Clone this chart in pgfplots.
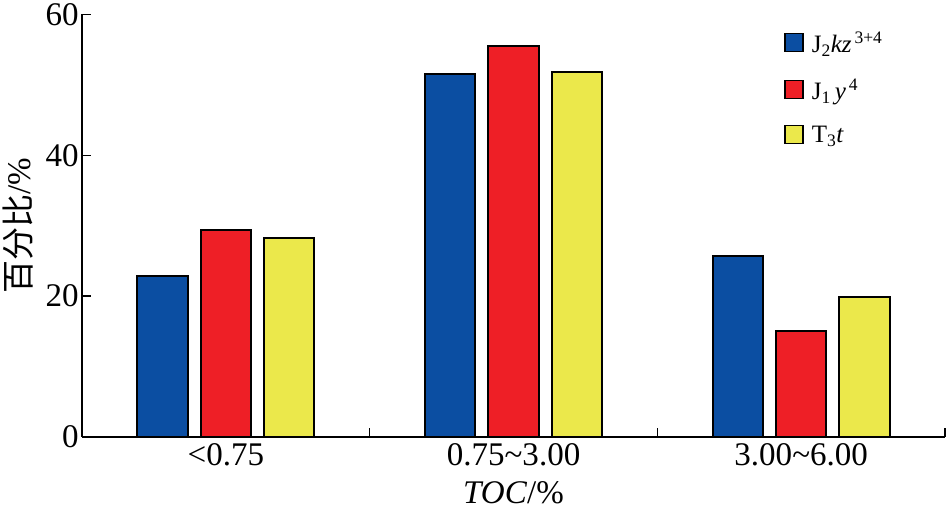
\documentclass[border=0pt]{standalone}
\usepackage{pgfplots}
\pgfplotsset{compat=1.18}
\usepackage{fontspec}
\setmainfont{Liberation Serif}
\newfontfamily\cjk{Noto Sans CJK SC}
\definecolor{cblue}{RGB}{11,78,162}
\definecolor{cred}{RGB}{238,31,38}
\definecolor{cyel}{RGB}{235,232,75}
\begin{document}
\begin{tikzpicture}
\begin{axis}[
  scale only axis, width=862pt, height=422pt,
  xmin=-0.5, xmax=2.5, ymin=0, ymax=60,
  axis x line=bottom, axis y line=left,
  axis line style={line width=2pt, -},
  ytick={0,20,40,60},
  xtick={0,1,2},
  xticklabels={<0.75, 0.75\textasciitilde3.00, 3.00\textasciitilde6.00},
  major x tick style={draw=none},
  minor xtick={0.5,1.5,2.5},
  tick align=inside,
  major tick length=9pt, minor tick length=9pt,
  tick style={line width=1.5pt, black},
  tick label style={font=\fontsize{33}{38}\selectfont},
  xticklabel style={yshift=-3pt},
  /pgf/number format/assume math mode=true,
  xlabel={\textit{TOC}/\%},
  ylabel={{\cjk 百分比}/\%},
  label style={font=\fontsize{33}{38}\selectfont},
  xlabel style={at={(axis description cs:0.5,0)}, anchor=north, yshift=-41pt},
  ylabel style={yshift=5pt},
  legend cell align=left,
  legend style={draw=none, fill=none, at={(0.81,0.968)}, anchor=north west,
    font=\fontsize{25}{29}\selectfont, row sep=21pt,
    /tikz/every even column/.append style={column sep=10pt}},
  legend image code/.code={\draw[#1, line width=1.5pt] (0pt,-8pt) rectangle (18pt,10pt);},
]
\addplot[ybar, bar width=0.175, bar shift=-0.22, fill=cblue, draw=black, line width=2pt]
  coordinates {(0,22.8) (1,51.6) (2,25.7)};
\addplot[ybar, bar width=0.175, bar shift=0, fill=cred, draw=black, line width=2pt]
  coordinates {(0,29.4) (1,55.5) (2,15.1)};
\addplot[ybar, bar width=0.175, bar shift=0.22, fill=cyel, draw=black, line width=2pt]
  coordinates {(0,28.2) (1,51.9) (2,19.9)};
\legend{\hspace{6pt}J\textsubscript{2}\textit{kz}\textsuperscript{\,3+4}, \hspace{6pt}J\textsubscript{1}\,\textit{y}\textsuperscript{\,4}, \hspace{6pt}T\textsubscript{3}\textit{t}}
\end{axis}
\end{tikzpicture}
\end{document}
